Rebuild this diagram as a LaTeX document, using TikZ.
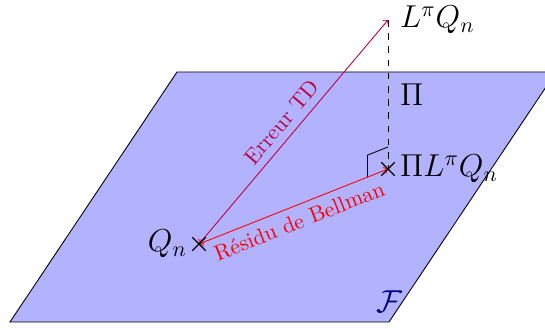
\documentclass[tikz,border=0pt]{standalone}
\usetikzlibrary{shapes.misc,calc}
\begin{document}
\begin{tikzpicture}[x=0.4545pt,y=-0.4545pt,
  crs/.style={cross out,draw,minimum size=5.5pt,inner sep=0pt,line width=0.6pt},
  mlab/.style={font=\Large},
  plane/.style={draw,fill=blue!30}]
\useasboundingbox (0,0) rectangle (545,329);
\draw[plane] (10,322) -- (389,322) -- (556,72) -- (177,72) -- cycle;
\coordinate (Q) at (199,244);
\coordinate (P) at (388,169);
\coordinate (L) at (388,20);
\node[mlab, text=blue!50!black] (F) at (389,302) {$\mathcal{F}$};
\draw[dashed] (L) -- node[mlab, right=2pt] (pi) {$\Pi$} (P);
\coordinate (m1) at ($(P)!10pt!(L)$);
\coordinate (m2) at ($(P)!10pt!(Q)$);
\draw (m1) -- ($(m1)+(m2)-(P)$) -- (m2);
\draw[purple, <->] (Q) -- node[sloped, above] (td) {Erreur TD} (L);
\draw[red, <->] (Q) -- node[sloped, below] (br) {Résidu de Bellman} (P);
\node[crs] (Qx) at (Q) {};
\node[crs] (Px) at (P) {};
\node[mlab, left=2pt] (Qn) at (Q) {$Q_n$};
\node[mlab, right=2pt] (PLQ) at (P) {$\Pi L^\pi Q_n$};
\node[mlab, right=2pt] (LQ) at (L) {$L^\pi Q_n$};
\end{tikzpicture}
\end{document}
